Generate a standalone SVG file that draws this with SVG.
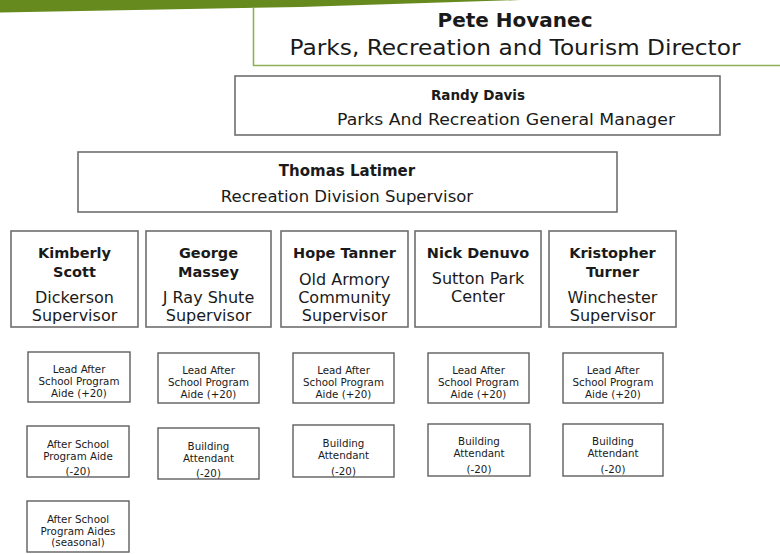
<svg xmlns="http://www.w3.org/2000/svg" width="780" height="554" viewBox="0 0 780 554">
  <style>
    text { font-family: "DejaVu Sans", "Liberation Sans", sans-serif; fill: #1a1a1a; text-anchor: middle; }
    .box { fill: #ffffff; stroke: #6e6e6e; stroke-width: 1.6; }
    .small { fill: #ffffff; stroke: #5e5e5e; stroke-width: 1.4; }
    .nm { font-weight: bold; font-size: 14.5px; }
    .role { font-size: 16px; }
    .sm { font-size: 10.3px; }
  </style>

  <!-- top banner -->
  <path d="M0,0 L520,0 L440,2.5 L300,7 L0,12.5 Z" fill="#678a1e"/>

  <!-- director -->
  <g id="director">
    <path d="M253.5,8 L253.5,65.5 L780,65.5" fill="none" stroke="#8fb155" stroke-width="1.6"/>
    <text x="515" y="27" font-weight="bold" font-size="20">Pete Hovanec</text>
    <text x="515" y="55" font-size="22" textLength="451" lengthAdjust="spacingAndGlyphs">Parks, Recreation and Tourism Director</text>
  </g>

  <!-- general manager -->
  <g id="general-manager">
    <rect class="box" x="235" y="76" width="485" height="59"/>
    <text x="478" y="100" font-weight="bold" font-size="13.5">Randy Davis</text>
    <text x="506" y="125" font-size="16" textLength="338" lengthAdjust="spacingAndGlyphs">Parks And Recreation General Manager</text>
  </g>

  <!-- division supervisor -->
  <g id="division-supervisor">
    <rect class="box" x="78" y="152" width="539" height="60"/>
    <text x="347" y="176" font-weight="bold" font-size="15">Thomas Latimer</text>
    <text x="347" y="202" font-size="16.5">Recreation Division Supervisor</text>
  </g>

  <!-- site supervisors -->
  <g id="kimberly-scott">
    <rect class="box" x="11" y="231" width="127" height="96"/>
    <text class="nm" x="74.5" y="258">Kimberly</text>
    <text class="nm" x="74.5" y="277">Scott</text>
    <text class="role" x="74.5" y="303">Dickerson</text>
    <text class="role" x="74.5" y="321">Supervisor</text>
  </g>
  <g id="george-massey">
    <rect class="box" x="146" y="231" width="125" height="96"/>
    <text class="nm" x="208.5" y="258">George</text>
    <text class="nm" x="208.5" y="277">Massey</text>
    <text class="role" x="208.5" y="303">J Ray Shute</text>
    <text class="role" x="208.5" y="321">Supervisor</text>
  </g>
  <g id="hope-tanner">
    <rect class="box" x="281" y="231" width="127" height="96"/>
    <text class="nm" x="344.5" y="258">Hope Tanner</text>
    <text class="role" x="344.5" y="285">Old Armory</text>
    <text class="role" x="344.5" y="303">Community</text>
    <text class="role" x="344.5" y="321">Supervisor</text>
  </g>
  <g id="nick-denuvo">
    <rect class="box" x="415" y="231" width="126" height="96"/>
    <text class="nm" x="478" y="258">Nick Denuvo</text>
    <text class="role" x="478" y="284">Sutton Park</text>
    <text class="role" x="478" y="302">Center</text>
  </g>
  <g id="kristopher-turner">
    <rect class="box" x="549" y="231" width="127" height="96"/>
    <text class="nm" x="612.5" y="258">Kristopher</text>
    <text class="nm" x="612.5" y="277">Turner</text>
    <text class="role" x="612.5" y="303">Winchester</text>
    <text class="role" x="612.5" y="321">Supervisor</text>
  </g>

  <!-- lead aides -->
  <g id="lead-aide-dickerson">
    <rect class="small" x="28" y="352" width="102" height="50"/>
    <text class="sm" x="79" y="373">Lead After</text>
    <text class="sm" x="79" y="385">School Program</text>
    <text class="sm" x="79" y="397">Aide (+20)</text>
  </g>
  <g id="lead-aide-shute">
    <rect class="small" x="158" y="353" width="101" height="50"/>
    <text class="sm" x="208.5" y="374">Lead After</text>
    <text class="sm" x="208.5" y="386">School Program</text>
    <text class="sm" x="208.5" y="398">Aide (+20)</text>
  </g>
  <g id="lead-aide-armory">
    <rect class="small" x="293" y="353" width="101" height="50"/>
    <text class="sm" x="343.5" y="374">Lead After</text>
    <text class="sm" x="343.5" y="386">School Program</text>
    <text class="sm" x="343.5" y="398">Aide (+20)</text>
  </g>
  <g id="lead-aide-sutton">
    <rect class="small" x="428" y="353" width="101" height="50"/>
    <text class="sm" x="478.5" y="374">Lead After</text>
    <text class="sm" x="478.5" y="386">School Program</text>
    <text class="sm" x="478.5" y="398">Aide (+20)</text>
  </g>
  <g id="lead-aide-winchester">
    <rect class="small" x="563" y="353" width="100" height="50"/>
    <text class="sm" x="613" y="374">Lead After</text>
    <text class="sm" x="613" y="386">School Program</text>
    <text class="sm" x="613" y="398">Aide (+20)</text>
  </g>

  <!-- second row -->
  <g id="aide-dickerson">
    <rect class="small" x="27" y="426" width="102" height="51"/>
    <text class="sm" x="78" y="448">After School</text>
    <text class="sm" x="78" y="460">Program Aide</text>
    <text class="sm" x="78" y="475">(-20)</text>
  </g>
  <g id="attendant-shute">
    <rect class="small" x="158" y="428" width="101" height="51"/>
    <text class="sm" x="208.5" y="450">Building</text>
    <text class="sm" x="208.5" y="462">Attendant</text>
    <text class="sm" x="208.5" y="477">(-20)</text>
  </g>
  <g id="attendant-armory">
    <rect class="small" x="293" y="425" width="101" height="52"/>
    <text class="sm" x="343.5" y="447">Building</text>
    <text class="sm" x="343.5" y="459">Attendant</text>
    <text class="sm" x="343.5" y="475">(-20)</text>
  </g>
  <g id="attendant-sutton">
    <rect class="small" x="428" y="424" width="102" height="52"/>
    <text class="sm" x="479" y="445">Building</text>
    <text class="sm" x="479" y="457">Attendant</text>
    <text class="sm" x="479" y="473">(-20)</text>
  </g>
  <g id="attendant-winchester">
    <rect class="small" x="563" y="424" width="100" height="52"/>
    <text class="sm" x="613" y="445">Building</text>
    <text class="sm" x="613" y="457">Attendant</text>
    <text class="sm" x="613" y="473">(-20)</text>
  </g>

  <!-- third row -->
  <g id="seasonal-aides-dickerson">
    <rect class="small" x="27" y="501" width="102" height="51"/>
    <text class="sm" x="78" y="523">After School</text>
    <text class="sm" x="78" y="535">Program Aides</text>
    <text class="sm" x="78" y="546">(seasonal)</text>
  </g>

  <g id="connectors"/>
</svg>
